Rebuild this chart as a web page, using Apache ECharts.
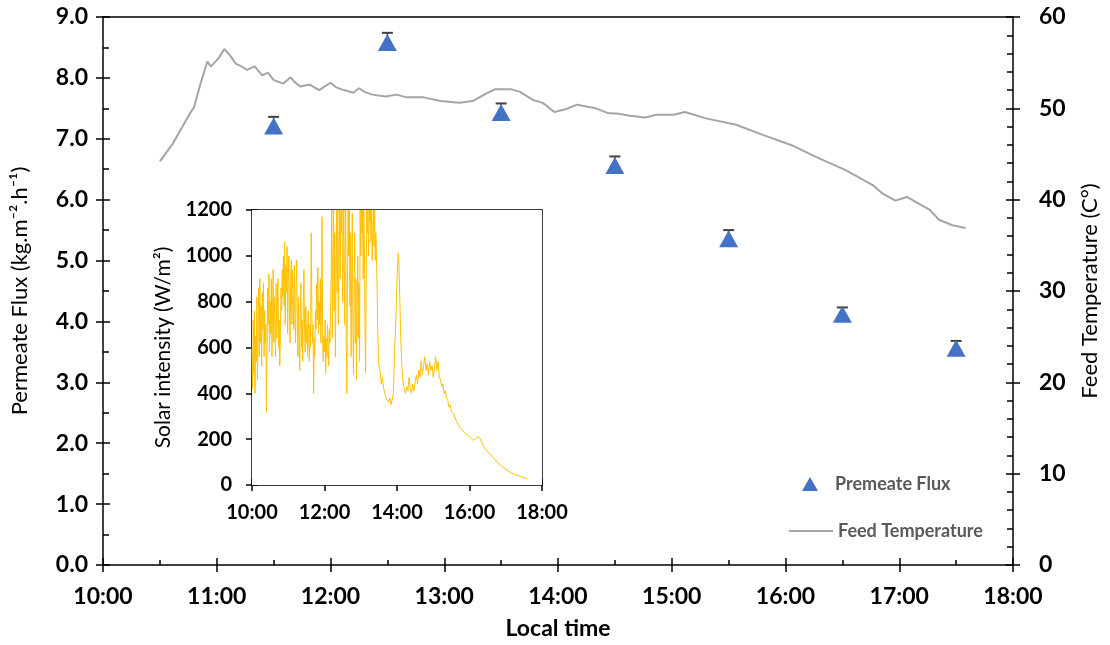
<!DOCTYPE html>
<html>
<head>
<meta charset="utf-8">
<script src="https://cdn.jsdelivr.net/npm/echarts@6/dist/echarts.min.js"></script>
<style>html,body{margin:0;padding:0;background:#fff}#c{width:1110px;height:645px}</style>
</head>
<body>
<div id="c"></div>
<script>
// ---------------- data ----------------
const xTicks = ['10:00','11:00','12:00','13:00','14:00','15:00','16:00','17:00','18:00'];

const fluxTime  = ['11:30','12:30','13:30','14:30','15:30','16:30','17:30'];
const fluxValue = [7.21, 8.58, 7.43, 6.56, 5.36, 4.12, 3.56];
const fluxError = [0.15, 0.16, 0.15, 0.15, 0.14, 0.11, 0.12];

const tempTime = ['10:30','10:37','10:46','10:48','10:51','10:55','10:57','11:01','11:04','11:07','11:10','11:13','11:16','11:20','11:24','11:27','11:30','11:35','11:39','11:41','11:44','11:49','11:54','12:00','12:03','12:07','12:12','12:15','12:18','12:22','12:29','12:35','12:40','12:49','12:58','13:08','13:15','13:22','13:27','13:35','13:40','13:47','13:52','13:58','14:04','14:10','14:20','14:26','14:32','14:38','14:46','14:52','15:01','15:07','15:18','15:34','15:48','16:04','16:18','16:32','16:46','16:51','16:58','17:04','17:10','17:16','17:21','17:28','17:35'];
const tempValue = [44.2,46.2,49.5,50.1,52.4,55.1,54.6,55.5,56.5,55.8,54.9,54.6,54.2,54.6,53.6,53.9,53.1,52.7,53.4,52.9,52.4,52.6,52.0,52.8,52.3,52.0,51.7,52.2,51.8,51.5,51.3,51.5,51.2,51.2,50.8,50.6,50.8,51.6,52.1,52.1,51.8,50.9,50.6,49.6,49.9,50.4,50.0,49.5,49.4,49.2,49.0,49.3,49.3,49.6,48.9,48.2,47.1,45.9,44.5,43.2,41.6,40.7,39.9,40.3,39.6,38.9,37.8,37.2,36.9];

const solarTime = [
'10:00','10:01','10:02','10:03','10:04','10:05','10:06','10:07','10:08','10:09',
'10:10','10:11','10:12','10:13','10:14','10:15','10:16','10:17','10:18','10:19',
'10:20','10:21','10:22','10:23','10:24','10:25','10:26','10:27','10:28','10:29',
'10:30','10:31','10:32','10:33','10:34','10:35','10:36','10:37','10:38','10:39',
'10:40','10:41','10:42','10:43','10:44','10:45','10:46','10:47','10:48','10:49',
'10:50','10:51','10:52','10:53','10:54','10:55','10:56','10:57','10:58','10:59',
'11:00','11:01','11:02','11:03','11:04','11:05','11:06','11:07','11:08','11:09',
'11:10','11:11','11:12','11:13','11:14','11:15','11:16','11:17','11:18','11:19',
'11:20','11:21','11:22','11:23','11:24','11:25','11:26','11:27','11:28','11:29',
'11:30','11:31','11:32','11:33','11:34','11:35','11:36','11:37','11:38','11:39',
'11:40','11:41','11:42','11:43','11:44','11:45','11:46','11:47','11:48','11:49',
'11:50','11:51','11:52','11:53','11:54','11:55','11:56','11:57','11:58','11:59',
'12:00','12:01','12:02','12:03','12:04','12:05','12:06','12:07','12:08','12:09',
'12:10','12:11','12:12','12:13','12:14','12:15','12:16','12:17','12:18','12:19',
'12:20','12:21','12:22','12:23','12:24','12:25','12:26','12:27','12:28','12:29',
'12:30','12:31','12:32','12:33','12:34','12:35','12:36','12:37','12:38','12:39',
'12:40','12:41','12:42','12:43','12:44','12:45','12:46','12:47','12:48','12:49',
'12:50','12:51','12:52','12:53','12:54','12:55','12:56','12:57','12:58','12:59',
'13:00','13:01','13:02','13:03','13:04','13:05','13:06','13:07','13:08','13:09',
'13:10','13:11','13:12','13:13','13:14','13:15','13:16','13:17','13:18','13:19',
'13:20','13:21','13:22','13:23','13:24','13:25','13:26','13:27','13:28','13:29',
'13:30','13:32','13:34','13:36','13:38','13:40','13:42','13:44','13:46','13:48',
'13:50','13:52','13:54','13:56','13:58','14:00','14:02','14:03','14:04','14:06',
'14:08','14:10','14:12','14:14','14:16','14:18','14:20','14:22','14:24','14:26',
'14:28','14:30','14:32','14:34','14:36','14:38','14:40','14:42','14:44','14:46',
'14:48','14:50','14:52','14:54','14:56','14:58','15:00','15:02','15:04','15:06',
'15:08','15:10','15:12','15:14','15:16','15:18','15:20','15:22','15:24','15:26',
'15:28','15:30','15:34','15:38','15:42','15:46','15:50','15:54','15:58','16:02',
'16:06','16:10','16:14','16:18','16:24','16:30','16:36','16:42','16:48','16:54',
'17:00','17:08','17:16','17:24','17:32','17:36'];
const solarValue = [
600,420,720,480,760,400,650,540,820,460,
700,860,560,900,620,780,520,840,680,880,
560,760,620,700,320,600,860,700,920,580,
800,660,900,560,740,940,620,820,700,560,
880,640,780,900,600,720,520,660,860,760,
940,820,1000,780,1060,700,960,840,1040,660,
900,1000,760,620,880,980,700,940,820,680,
960,760,620,880,980,700,560,820,640,500,
760,880,600,720,540,800,940,680,580,780,
620,700,560,760,640,540,700,600,1100,760,
620,700,400,640,560,760,680,880,720,950,
660,800,700,900,620,760,1170,620,540,650,
580,720,490,640,560,700,600,520,680,620,
760,900,1200,640,1000,1200,760,1100,560,900,
1200,840,1200,700,1000,1200,900,1200,1100,1200,
800,1050,1200,700,960,1200,640,400,880,1200,
1000,1200,780,1100,560,900,1185,700,480,860,
1100,620,900,460,760,1000,640,880,540,1200,
1000,1200,1100,1200,900,1200,1050,700,490,900,
1200,1100,1200,1000,1200,1150,1200,1060,1200,980,
1100,1200,1040,1200,980,1100,1000,880,700,575,
520,500,440,470,420,400,380,370,360,380,
350,342,400,590,700,900,1010,990,880,662,
520,450,420,400,430,410,470,420,400,440,
410,450,480,440,500,470,540,480,520,560,
500,530,480,540,500,520,470,510,560,500,
540,470,460,430,440,400,410,380,370,340,
350,320,310,280,260,245,235,225,215,205,
195,200,212,200,165,145,130,110,95,80,
68,55,45,38,30,25];

// ---------------- helpers ----------------
const toH = s => { const p = s.split(':'); return +p[0] + (+p[1]) / 60; };
const hourLabel = v => (v < 10 ? '0' : '') + Math.round(v) + ':00';
const FONT = 'Lato';
const BLACK = '#000';

const fluxData  = fluxTime.map((t, i) => [toH(t), fluxValue[i], fluxError[i]]);
const tempData  = tempTime.map((t, i) => [toH(t), tempValue[i]]);
const solarData = solarTime.map((t, i) => [toH(t), solarValue[i]]);

const xMin = toH(xTicks[0]), xMax = toH(xTicks[xTicks.length - 1]);

const lineStyle = { color: BLACK, width: 1.5 };
function plainAxis(extra) {
  return Object.assign({
    type: 'value', splitLine: { show: false },
    axisLine: { show: true, onZero: false, lineStyle: lineStyle },
    axisTick: { show: false }, axisLabel: { show: false }
  }, extra);
}

const chart = echarts.init(document.getElementById('c'), null, { renderer: 'canvas' });
chart.setOption({
  animation: false,
  backgroundColor: '#fff',
  grid: [
    { left: 103, right: 97, top: 17, bottom: 79 },
    { left: 252, top: 210, width: 290, height: 275, show: true, backgroundColor: '#fff', borderWidth: 0, z: 5 }
  ],
  legend: [
    { data: ['Premeate Flux'], left: 797, top: 470, itemWidth: 16, itemHeight: 14, icon: 'triangle',
      textStyle: { fontFamily: FONT, fontWeight: 'bold', fontSize: 18, color: '#595959', padding: [0, 0, 0, 12] } },
    { data: ['Feed Temperature'], left: 784, top: 517, itemWidth: 44, itemHeight: 2, icon: 'rect',
      itemStyle: { color: '#A5A5A5' },
      textStyle: { fontFamily: FONT, fontWeight: 'bold', fontSize: 18, color: '#595959' } }
  ],
  xAxis: [
    plainAxis({ gridIndex: 0, position: 'bottom', min: xMin, max: xMax, interval: 1,
      axisTick: { show: true, inside: false, length: 7, lineStyle: lineStyle },
      axisLabel: { show: true, formatter: hourLabel, fontFamily: FONT, fontWeight: 'bold', fontSize: 23, color: BLACK, margin: 20 },
      name: 'Local time', nameLocation: 'middle', nameGap: 52,
      nameTextStyle: { fontFamily: FONT, fontWeight: 'bold', fontSize: 23, color: BLACK } }),
    plainAxis({ gridIndex: 0, position: 'bottom', min: xMin, max: xMax, interval: 1, axisLine: { show: false },
      axisTick: { show: true, inside: true, length: 7, lineStyle: lineStyle },
      minorTick: { show: true, splitNumber: 2, length: 5, lineStyle: lineStyle } }),
    plainAxis({ gridIndex: 0, position: 'top', min: xMin, max: xMax }),
    plainAxis({ gridIndex: 1, position: 'bottom', min: xMin, max: xMax, interval: 2,
      axisTick: { show: true, inside: false, length: 6, lineStyle: lineStyle },
      axisLabel: { show: true, formatter: hourLabel, fontFamily: FONT, fontWeight: 'bold', fontSize: 20, color: BLACK, margin: 18 } }),
    plainAxis({ gridIndex: 1, position: 'bottom', min: xMin, max: xMax, interval: 2, axisLine: { show: false },
      axisTick: { show: true, inside: true, length: 6, lineStyle: lineStyle },
      minorTick: { show: true, splitNumber: 4, length: 5, lineStyle: lineStyle } }),
    plainAxis({ gridIndex: 1, position: 'top', min: xMin, max: xMax })
  ],
  yAxis: [
    plainAxis({ gridIndex: 0, position: 'left', min: 0, max: 9, interval: 1,
      axisTick: { show: true, inside: false, length: 7, lineStyle: lineStyle },
      axisLabel: { show: true, formatter: v => v.toFixed(1), fontFamily: FONT, fontWeight: 'bold', fontSize: 23, color: BLACK, margin: 15 },
      name: 'Permeate Flux (kg.m\u207B\u00B2.h\u207B\u00B9)', nameLocation: 'middle', nameGap: 72, nameRotate: 90,
      nameTextStyle: { fontFamily: FONT, fontSize: 22, color: BLACK } }),
    plainAxis({ gridIndex: 0, position: 'right', min: 0, max: 60, interval: 10,
      axisTick: { show: true, inside: false, length: 7, lineStyle: lineStyle },
      axisLabel: { show: true, fontFamily: FONT, fontWeight: 'bold', fontSize: 23, color: BLACK, margin: 26 },
      name: 'Feed Temperature (C\u00B0)', nameLocation: 'middle', nameGap: 66, nameRotate: 90,
      nameTextStyle: { fontFamily: FONT, fontSize: 22, color: BLACK } }),
    plainAxis({ gridIndex: 0, position: 'left', min: 0, max: 9, interval: 1, axisLine: { show: false },
      axisTick: { show: true, inside: true, length: 7, lineStyle: lineStyle },
      minorTick: { show: true, splitNumber: 2, length: 6, lineStyle: lineStyle } }),
    plainAxis({ gridIndex: 0, position: 'right', min: 0, max: 60, interval: 10, axisLine: { show: false },
      axisTick: { show: true, inside: true, length: 7, lineStyle: lineStyle },
      minorTick: { show: true, splitNumber: 5, length: 6, lineStyle: lineStyle } }),
    plainAxis({ gridIndex: 1, position: 'left', min: 0, max: 1200, interval: 200,
      axisTick: { show: true, inside: false, length: 6, lineStyle: lineStyle },
      axisLabel: { show: true, formatter: v => String(v), fontFamily: FONT, fontWeight: 'bold', fontSize: 20, color: BLACK, margin: 20 },
      name: 'Solar intensity (W/m\u00B2)', nameLocation: 'middle', nameGap: 78, nameRotate: 90,
      nameTextStyle: { fontFamily: FONT, fontSize: 21, color: BLACK } }),
    plainAxis({ gridIndex: 1, position: 'left', min: 0, max: 1200, interval: 200, axisLine: { show: false },
      axisTick: { show: true, inside: true, length: 6, lineStyle: lineStyle },
      minorTick: { show: true, splitNumber: 4, length: 5, lineStyle: lineStyle } }),
    plainAxis({ gridIndex: 1, position: 'right', min: 0, max: 1200 })
  ],
  series: [
    { name: 'Feed Temperature', type: 'line', xAxisIndex: 0, yAxisIndex: 1, data: tempData,
      symbol: 'none', lineStyle: { color: '#A5A5A5', width: 2 }, itemStyle: { color: '#A5A5A5' }, z: 2 },
    { name: 'Flux error', type: 'custom', xAxisIndex: 0, yAxisIndex: 0, data: fluxData, z: 3,
      renderItem: (params, api) => {
        const x = api.value(0), y = api.value(1), e = api.value(2);
        const p0 = api.coord([x, y]), p1 = api.coord([x, y + e]);
        return { type: 'group', children: [
          { type: 'line', shape: { x1: p0[0], y1: p0[1], x2: p1[0], y2: p1[1] }, style: { stroke: '#404040', lineWidth: 1.5 } },
          { type: 'line', shape: { x1: p1[0] - 5.5, y1: p1[1], x2: p1[0] + 5.5, y2: p1[1] }, style: { stroke: '#404040', lineWidth: 2 } }
        ] };
      } },
    { name: 'Premeate Flux', type: 'scatter', xAxisIndex: 0, yAxisIndex: 0, data: fluxData,
      symbol: 'triangle', symbolSize: [19, 17], itemStyle: { color: '#4472C4', opacity: 1 }, z: 4 },
    { name: 'Solar intensity', type: 'line', xAxisIndex: 3, yAxisIndex: 4, data: solarData,
      symbol: 'none', lineStyle: { color: '#FFC000', width: 1 }, itemStyle: { color: '#FFC000' }, clip: true, z: 6 }
  ]
});
</script>
</body>
</html>
